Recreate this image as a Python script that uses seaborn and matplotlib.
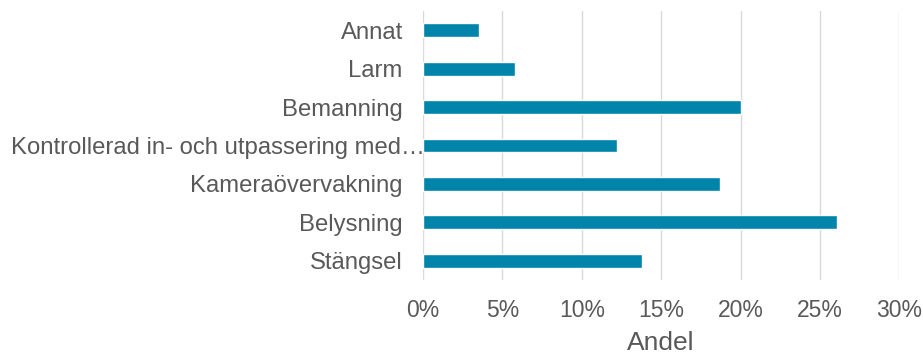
import matplotlib
matplotlib.use("Agg")
import matplotlib.pyplot as plt
import seaborn as sns
import pandas as pd
from matplotlib.ticker import FuncFormatter

categories = [
    "Annat",
    "Larm",
    "Bemanning",
    "Kontrollerad in- och utpassering med…",
    "Kameraövervakning",
    "Belysning",
    "Stängsel",
]
andel = [3.5, 5.8, 20.0, 12.2, 18.7, 26.1, 13.8]
x_ticks = [0, 5, 10, 15, 20, 25, 30]

df = pd.DataFrame({"Kategori": categories, "Andel": andel})

sns.set_theme(style="white")
plt.rcParams["font.family"] = ["Liberation Sans", "DejaVu Sans"]

fig = plt.figure(figsize=(9.23, 3.56), dpi=100)
ax = fig.add_axes([0.4583, 0.2135, 0.5160, 0.7555])

sns.barplot(data=df, x="Andel", y="Kategori", color="#0084A9",
            width=0.36, saturation=1, ax=ax)

ax.set_xlim(0, 30)
ax.set_ylim(6.5, -0.5)
ax.set_xticks(x_ticks)
ax.xaxis.set_major_formatter(FuncFormatter(lambda v, p: f"{v:.0f}%"))
ax.grid(axis="x", color="#D9D9D9", linewidth=1.0)
ax.set_axisbelow(True)
for s in ax.spines.values():
    s.set_visible(False)

ax.tick_params(axis="x", length=0, pad=14, labelsize=16.5, labelcolor="#595959")
ax.tick_params(axis="y", length=0, pad=14.5, labelsize=17.2, labelcolor="#595959")
ax.set_ylabel("")
ax.set_xlabel("Andel", fontsize=19, color="#595959", labelpad=6)

# the truncated long label runs up to the axis
for lbl in ax.get_yticklabels():
    if lbl.get_text().endswith("…"):
        lbl.set_x(0.046)

fig.savefig("out.png", dpi=100, facecolor="white")
